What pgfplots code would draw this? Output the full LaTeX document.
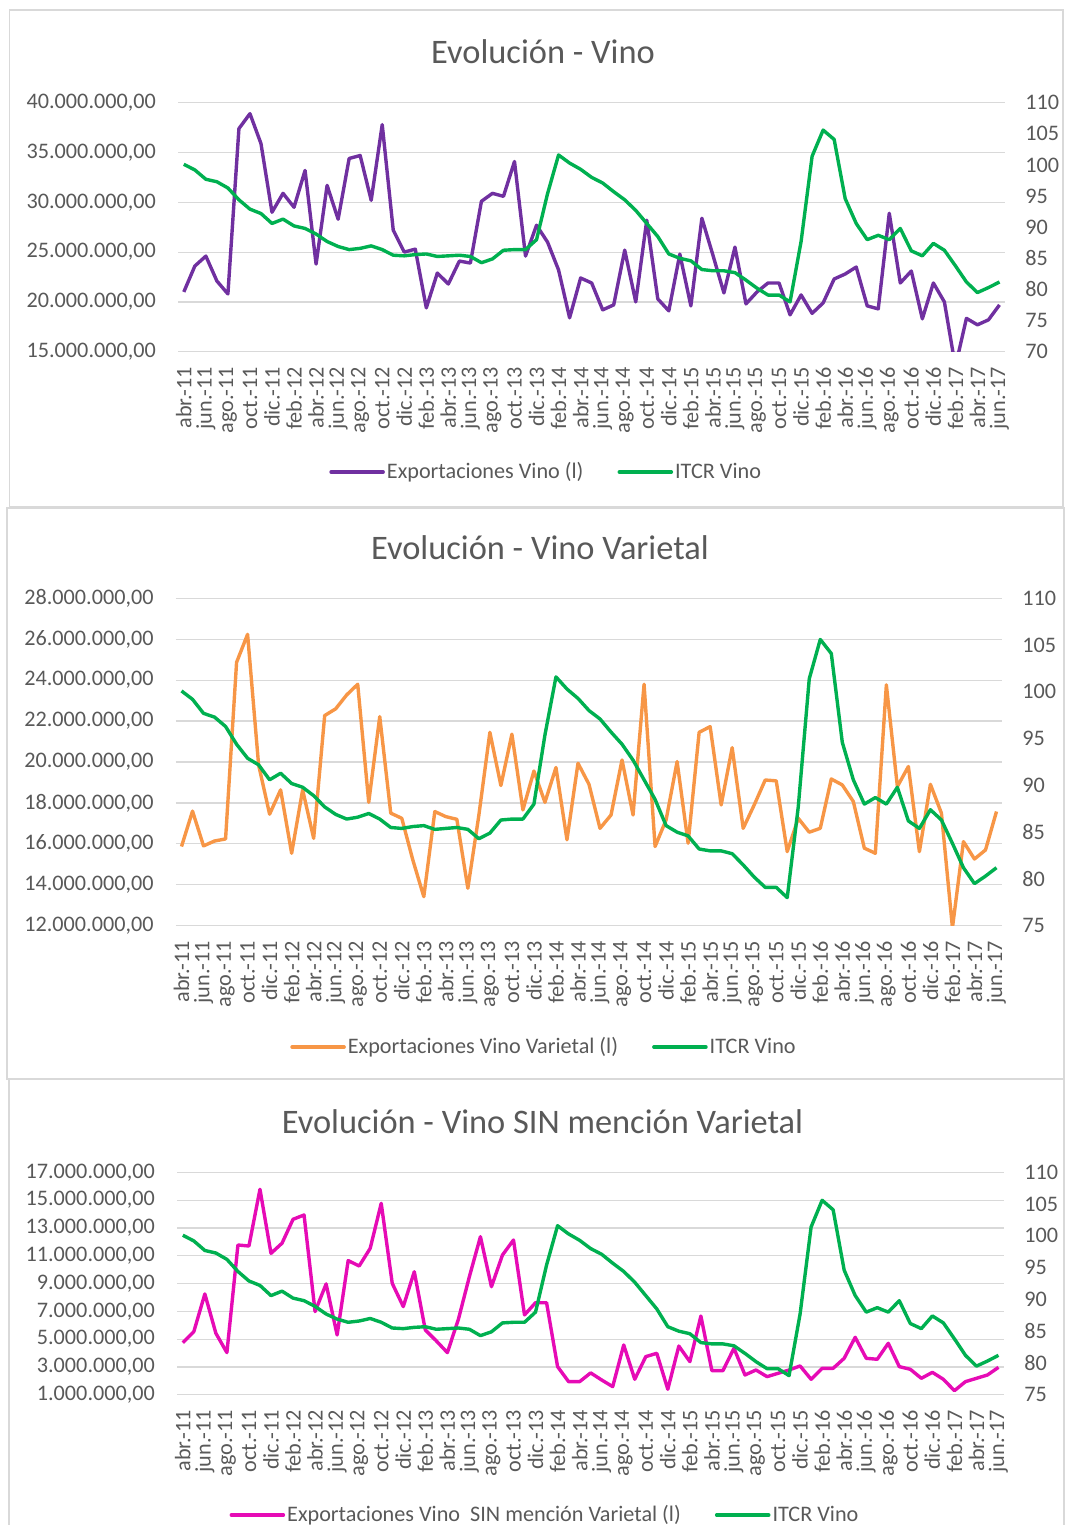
\documentclass[border=0pt]{standalone}
\usepackage{fontspec}
\setmainfont{Carlito}
\usepackage{pgfplots}
\pgfplotsset{compat=1.18}
\usepackage{pgfplotstable}
\definecolor{txt}{HTML}{595959}
\definecolor{gridc}{HTML}{D9D9D9}
\definecolor{frm}{HTML}{D9D9D9}
\definecolor{cvino}{HTML}{7030A0}
\definecolor{citcr}{HTML}{00B050}
\definecolor{cvar}{HTML}{F79646}
\definecolor{csin}{HTML}{E60BB5}
\newcommand\tk{\fontsize{11.1}{13}\selectfont}
\newcommand\ttl{\fontsize{17.2}{20}\selectfont}

\pgfplotstableread{
i vino var sin itcr
0 21000000 15870000 4750000 100.1
1 23600000 17600000 5540000 99.2
2 24600000 15900000 8250000 97.7
3 22100000 16140000 5420000 97.3
4 20800000 16240000 4030000 96.3
5 37400000 24870000 11770000 94.4
6 38900000 26240000 11700000 92.9
7 35900000 19860000 15780000 92.2
8 29000000 17450000 11170000 90.6
9 30900000 18640000 11900000 91.3
10 29500000 15540000 13620000 90.2
11 33200000 18640000 13930000 89.8
12 23800000 16270000 6980000 88.9
13 31700000 22270000 8970000 87.7
14 28300000 22600000 5300000 86.9
15 34400000 23280000 10650000 86.4
16 34700000 23800000 10260000 86.6
17 30200000 18030000 11530000 87.0
18 37800000 22220000 14770000 86.4
19 27200000 17500000 9010000 85.5
20 25000000 17250000 7340000 85.4
21 25300000 15220000 9850000 85.6
22 19400000 13420000 5660000 85.7
23 22900000 17580000 4870000 85.3
24 21800000 17330000 4030000 85.4
25 24100000 17200000 6420000 85.5
26 23900000 13830000 9500000 85.3
27 30100000 17400000 12370000 84.3
28 30900000 21450000 8770000 84.9
29 30600000 18850000 11050000 86.3
30 34100000 21360000 12130000 86.4
31 24600000 17660000 6740000 86.4
32 27700000 19560000 7620000 88.0
33 26000000 18030000 7620000 95.4
34 23200000 19730000 3020000 101.6
35 18400000 16200000 1940000 100.3
36 22400000 19940000 1940000 99.3
37 21900000 18910000 2570000 98.0
38 19200000 16760000 2060000 97.1
39 19700000 17410000 1580000 95.7
40 25200000 20100000 4580000 94.4
41 20000000 17410000 2110000 92.7
42 28200000 23800000 3740000 90.6
43 20300000 15870000 3980000 88.5
44 19100000 17170000 1390000 85.7
45 24800000 20020000 4500000 85.0
46 19600000 16030000 3380000 84.6
47 28400000 21450000 6660000 83.2
48 24700000 21730000 2730000 83.0
49 20900000 17900000 2730000 83.0
50 25500000 20700000 4340000 82.7
51 19800000 16760000 2420000 81.5
52 21000000 17900000 2780000 80.2
53 21900000 19120000 2300000 79.1
54 21900000 19080000 2540000 79.1
55 18700000 15620000 2780000 78.0
56 20700000 17250000 3070000 87.7
57 18850000 16570000 2110000 101.4
58 19900000 16760000 2900000 105.6
59 22300000 19170000 2900000 104.1
60 22800000 18880000 3620000 94.6
61 23500000 18070000 5130000 90.6
62 19600000 15790000 3620000 88.0
63 19300000 15540000 3550000 88.7
64 28900000 23770000 4700000 88.0
65 21900000 18800000 3020000 89.8
66 23100000 19780000 2830000 86.2
67 18300000 15620000 2180000 85.4
68 21900000 18910000 2610000 87.4
69 20000000 17500000 2110000 86.3
70 13500000 11900000 1290000 83.8
71 18350000 16110000 1940000 81.2
72 17700000 15260000 2180000 79.5
73 18200000 15700000 2420000 80.3
74 19700000 17580000 2970000 81.2
}\data

\pgfplotsset{
 base/.style={scale only axis, xmin=-0.5, xmax=74.5, axis line style={draw=none},
   major tick length=0pt, tick label style={font=\tk, text=txt},
   /pgf/number format/assume math mode=true, scaled y ticks=false, anchor=south west},
 leftax/.style={base, xtick={0,2,...,74},
   xticklabels={abr.-11,jun.-11,ago.-11,oct.-11,dic.-11,feb.-12,abr.-12,jun.-12,ago.-12,oct.-12,dic.-12,feb.-13,abr.-13,jun.-13,ago.-13,oct.-13,dic.-13,feb.-14,abr.-14,jun.-14,ago.-14,oct.-14,dic.-14,feb.-15,abr.-15,jun.-15,ago.-15,oct.-15,dic.-15,feb.-16,abr.-16,jun.-16,ago.-16,oct.-16,dic.-16,feb.-17,abr.-17,jun.-17},
   xticklabel style={rotate=90, anchor=east, inner sep=0pt, xshift=-7.5pt},
   yticklabel style={anchor=east, inner sep=0pt, xshift=-11pt},
   ymajorgrids, grid style={gridc, line width=0.6pt},
   legend columns=2,
   legend style={draw=none, fill=none, font=\tk, text=txt, anchor=center,
     /tikz/every even column/.append style={column sep=16pt},
     nodes={inner xsep=1pt, inner ysep=1pt}},
   legend image code/.code={\draw[#1, line width=1.8pt, line cap=round] (0pt,0pt) -- (26pt,0pt);}},
 rightax/.style={base, xtick=\empty, yticklabel pos=right,
   yticklabel style={anchor=west, inner sep=0pt, xshift=10pt}},
 s/.style={line width=1.7pt, line join=round, mark=none}
}

\begin{document}
\begin{tikzpicture}
\path[use as bounding box] (0pt,0pt) rectangle (532.5pt,-762.5pt);
\draw[frm, line width=0.75pt] (4.75pt,-5pt) rectangle (531.5pt,-253.5pt);
\draw[frm, line width=0.75pt] (3.5pt,-254pt) rectangle (532pt,-539.5pt);
\draw[frm, line width=0.75pt] (4.5pt,-539.5pt) rectangle (532pt,-775pt);

\node[font=\ttl, text=txt] at (271.5pt,-26pt) {Evolución - Vino};
\node[font=\ttl, text=txt] at (270pt,-274pt) {Evolución - Vino Varietal};
\node[font=\ttl, text=txt] at (271.25pt,-561pt) {Evolución - Vino SIN mención Varietal};

% Panel 1
\begin{axis}[leftax, at={(89.15pt,-175.85pt)}, width=413.35pt, height=124.5pt,
  ymin=15000000, ymax=40000000,
  ytick={15000000,20000000,25000000,30000000,35000000,40000000},
  yticklabels={{15.000.000,00},{20.000.000,00},{25.000.000,00},{30.000.000,00},{35.000.000,00},{40.000.000,00}},
  legend style={at={(0.445,-0.483)}}]
\addplot[s, cvino] table[x=i, y=vino]{\data};
\addlegendentry{Exportaciones Vino (l)}
\addlegendimage{s, citcr}
\addlegendentry{ITCR Vino}
\end{axis}
\begin{axis}[rightax, at={(89.15pt,-175.85pt)}, width=413.35pt, height=124.5pt,
  ymin=70, ymax=110, ytick={70,75,...,110}]
\addplot[s, citcr] table[x=i, y=itcr]{\data};
\end{axis}

% Panel 2
\begin{axis}[leftax, at={(88pt,-462.85pt)}, width=413pt, height=163.7pt,
  ymin=12000000, ymax=28000000,
  ytick={12000000,14000000,16000000,18000000,20000000,22000000,24000000,26000000,28000000},
  yticklabels={{12.000.000,00},{14.000.000,00},{16.000.000,00},{18.000.000,00},{20.000.000,00},{22.000.000,00},{24.000.000,00},{26.000.000,00},{28.000.000,00}},
  legend style={at={(0.4455,-0.3705)}}]
\addplot[s, cvar] table[x=i, y=var]{\data};
\addlegendentry{Exportaciones Vino Varietal (l)}
\addlegendimage{s, citcr}
\addlegendentry{ITCR Vino}
\end{axis}
\begin{axis}[rightax, at={(88pt,-462.85pt)}, width=413pt, height=163.7pt,
  ymin=75, ymax=110, ytick={75,80,...,110}]
\addplot[s, citcr] table[x=i, y=itcr]{\data};
\end{axis}

% Panel 3
\begin{axis}[leftax, at={(88.65pt,-697.35pt)}, width=413.35pt, height=111.2pt,
  ymin=1000000, ymax=17000000,
  ytick={1000000,3000000,5000000,7000000,9000000,11000000,13000000,15000000,17000000},
  yticklabels={{1.000.000,00},{3.000.000,00},{5.000.000,00},{7.000.000,00},{9.000.000,00},{11.000.000,00},{13.000.000,00},{15.000.000,00},{17.000.000,00}},
  legend style={at={(0.4448,-0.541)}}]
\addplot[s, csin] table[x=i, y=sin]{\data};
\addlegendentry{Exportaciones Vino\ \ SIN mención Varietal (l)}
\addlegendimage{s, citcr}
\addlegendentry{ITCR Vino}
\end{axis}
\begin{axis}[rightax, at={(88.65pt,-697.35pt)}, width=413.35pt, height=111.2pt,
  ymin=75, ymax=110, ytick={75,80,...,110}]
\addplot[s, citcr] table[x=i, y=itcr]{\data};
\end{axis}
\end{tikzpicture}
\end{document}
